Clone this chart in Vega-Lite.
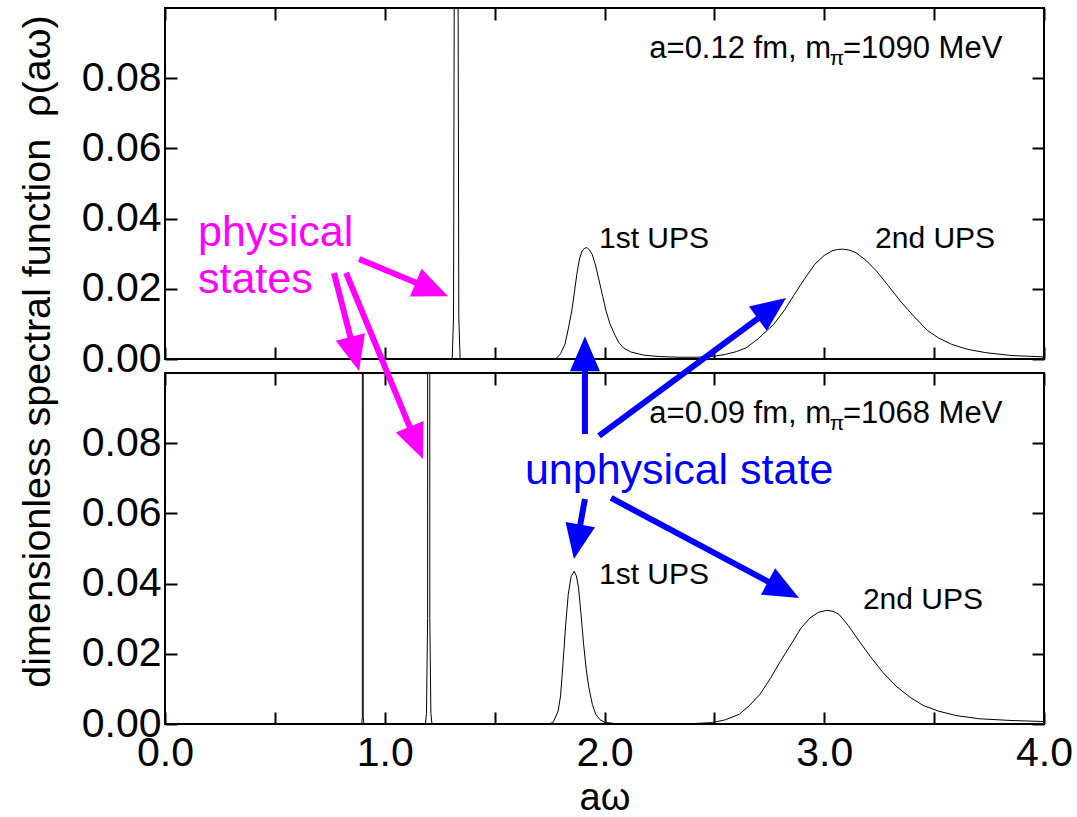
{
  "$schema": "https://vega.github.io/schema/vega-lite/v6.json",
  "background": "white",
  "padding": {"left": 16, "top": 6, "right": 5, "bottom": 5},
  "config": {
    "font": "Liberation Sans",
    "view": {"stroke": "black", "strokeWidth": 2},
    "axis": {"grid": false, "domain": false, "ticks": true, "tickOpacity": 1, "zindex": 1, "tickColor": "black", "tickWidth": 2, "tickSize": 12, "offset": -12, "labelColor": "black", "labelFont": "Liberation Sans", "titleFont": "Liberation Sans", "titleFontWeight": "normal", "titleColor": "black", "labelFlush": false, "labelOverlap": false}
  },
  "bounds": "flush",
  "spacing": 14,
  "datasets": {
    "top": [
      {"aw": 0, "rho": 0}, {"aw": 1.30, "rho": 0}, {"aw": 1.307, "rho": 0}, {"aw": 1.313, "rho": 0.012}, {"aw": 1.316, "rho": 0.1}, {"aw": 1.325, "rho": 3}, {"aw": 1.334, "rho": 0.1}, {"aw": 1.337, "rho": 0.012}, {"aw": 1.343, "rho": 0},
      {"aw": 1.75, "rho": 0}, {"aw": 1.781, "rho": 0.0002}, {"aw": 1.80, "rho": 0.0015}, {"aw": 1.82, "rho": 0.0042}, {"aw": 1.835, "rho": 0.0085}, {"aw": 1.851, "rho": 0.0137}, {"aw": 1.863, "rho": 0.019}, {"aw": 1.874, "rho": 0.0241}, {"aw": 1.886, "rho": 0.0285}, {"aw": 1.898, "rho": 0.0308}, {"aw": 1.91, "rho": 0.0316}, {"aw": 1.921, "rho": 0.0317}, {"aw": 1.932, "rho": 0.031}, {"aw": 1.944, "rho": 0.0298}, {"aw": 1.96, "rho": 0.0265}, {"aw": 1.976, "rho": 0.0222}, {"aw": 1.992, "rho": 0.0178}, {"aw": 2.007, "rho": 0.0137}, {"aw": 2.025, "rho": 0.01}, {"aw": 2.046, "rho": 0.007}, {"aw": 2.065, "rho": 0.0047}, {"aw": 2.085, "rho": 0.0032}, {"aw": 2.12, "rho": 0.002}, {"aw": 2.178, "rho": 0.0011}, {"aw": 2.25, "rho": 0.0007}, {"aw": 2.334, "rho": 0.0005}, {"aw": 2.42, "rho": 0.0005},
      {"aw": 2.489, "rho": 0.0007}, {"aw": 2.55, "rho": 0.0013}, {"aw": 2.6, "rho": 0.0021}, {"aw": 2.645, "rho": 0.0032}, {"aw": 2.7, "rho": 0.0058}, {"aw": 2.77, "rho": 0.0099}, {"aw": 2.82, "rho": 0.014}, {"aw": 2.864, "rho": 0.0184}, {"aw": 2.91, "rho": 0.0228}, {"aw": 2.957, "rho": 0.027}, {"aw": 3.0, "rho": 0.0295}, {"aw": 3.035, "rho": 0.0308}, {"aw": 3.06, "rho": 0.0312}, {"aw": 3.082, "rho": 0.0313}, {"aw": 3.11, "rho": 0.0311}, {"aw": 3.144, "rho": 0.0303}, {"aw": 3.19, "rho": 0.0281}, {"aw": 3.237, "rho": 0.0251}, {"aw": 3.29, "rho": 0.021}, {"aw": 3.346, "rho": 0.0165}, {"aw": 3.41, "rho": 0.012}, {"aw": 3.47, "rho": 0.0081}, {"aw": 3.52, "rho": 0.006}, {"aw": 3.579, "rho": 0.0042}, {"aw": 3.65, "rho": 0.0028}, {"aw": 3.735, "rho": 0.0018}, {"aw": 3.85, "rho": 0.001}, {"aw": 4.0, "rho": 0.0006}
    ],
    "bottom": [
      {"aw": 0, "rho": 0}, {"aw": 0.895, "rho": 0}, {"aw": 0.898, "rho": 0.002}, {"aw": 0.9, "rho": 5}, {"aw": 0.902, "rho": 0.002}, {"aw": 0.905, "rho": 0},
      {"aw": 1.185, "rho": 0}, {"aw": 1.19, "rho": 0.003}, {"aw": 1.195, "rho": 0.03}, {"aw": 1.2, "rho": 3}, {"aw": 1.205, "rho": 0.03}, {"aw": 1.21, "rho": 0.003}, {"aw": 1.215, "rho": 0},
      {"aw": 1.74, "rho": 0}, {"aw": 1.766, "rho": 0.0004}, {"aw": 1.789, "rho": 0.0037}, {"aw": 1.8, "rho": 0.008}, {"aw": 1.812, "rho": 0.0179}, {"aw": 1.823, "rho": 0.028}, {"aw": 1.835, "rho": 0.0369}, {"aw": 1.848, "rho": 0.042}, {"aw": 1.862, "rho": 0.0435}, {"aw": 1.872, "rho": 0.0422}, {"aw": 1.882, "rho": 0.0388}, {"aw": 1.893, "rho": 0.0313}, {"aw": 1.905, "rho": 0.0227}, {"aw": 1.917, "rho": 0.0155}, {"aw": 1.929, "rho": 0.0103}, {"aw": 1.945, "rho": 0.0055}, {"aw": 1.96, "rho": 0.0028}, {"aw": 1.98, "rho": 0.0012}, {"aw": 2.0, "rho": 0.0005}, {"aw": 2.05, "rho": 0.0001}, {"aw": 2.4, "rho": 0.0001},
      {"aw": 2.49, "rho": 0.0004}, {"aw": 2.55, "rho": 0.0012}, {"aw": 2.614, "rho": 0.0028}, {"aw": 2.66, "rho": 0.0053}, {"aw": 2.708, "rho": 0.0085}, {"aw": 2.755, "rho": 0.013}, {"aw": 2.801, "rho": 0.0179}, {"aw": 2.85, "rho": 0.0228}, {"aw": 2.895, "rho": 0.0274}, {"aw": 2.935, "rho": 0.0302}, {"aw": 2.973, "rho": 0.0318}, {"aw": 3.011, "rho": 0.0324}, {"aw": 3.04, "rho": 0.0321}, {"aw": 3.066, "rho": 0.0313}, {"aw": 3.11, "rho": 0.028}, {"aw": 3.159, "rho": 0.0236}, {"aw": 3.21, "rho": 0.0192}, {"aw": 3.268, "rho": 0.0146}, {"aw": 3.33, "rho": 0.0106}, {"aw": 3.393, "rho": 0.0075}, {"aw": 3.45, "rho": 0.0053}, {"aw": 3.518, "rho": 0.0037}, {"aw": 3.6, "rho": 0.0024}, {"aw": 3.704, "rho": 0.0015}, {"aw": 3.85, "rho": 0.001}, {"aw": 4.0, "rho": 0.0007}
    ],
    "labels": [
      {"panel": "top", "kind": "ann1", "aw": 3.031, "rho": 0.0858, "text": "a=0.12 fm, m"},
      {"panel": "top", "kind": "sub", "aw": 3.058, "rho": 0.0838, "text": "π"},
      {"panel": "top", "kind": "ann2", "aw": 3.085, "rho": 0.0858, "text": "=1090 MeV"},
      {"panel": "top", "kind": "ups", "aw": 1.975, "rho": 0.0316, "text": "1st UPS"},
      {"panel": "top", "kind": "ups", "aw": 3.231, "rho": 0.0316, "text": "2nd UPS"},
      {"panel": "top", "kind": "mag", "aw": 0.15, "rho": 0.0322, "text": "physical"},
      {"panel": "top", "kind": "mag", "aw": 0.15, "rho": 0.0188, "text": "states"},
      {"panel": "bottom", "kind": "ann1", "aw": 3.031, "rho": 0.0858, "text": "a=0.09 fm, m"},
      {"panel": "bottom", "kind": "sub", "aw": 3.058, "rho": 0.0838, "text": "π"},
      {"panel": "bottom", "kind": "ann2", "aw": 3.085, "rho": 0.0858, "text": "=1068 MeV"},
      {"panel": "bottom", "kind": "ups", "aw": 1.975, "rho": 0.0399, "text": "1st UPS"},
      {"panel": "bottom", "kind": "ups", "aw": 3.176, "rho": 0.0328, "text": "2nd UPS"},
      {"panel": "bottom", "kind": "blue", "aw": 1.638, "rho": 0.0684, "text": "unphysical state"}
    ],
    "arrows": [
      {"grp": "physical", "x1": 0.883, "y1": 0.1325, "x2": 1.288, "y2": 0.1219},
      {"grp": "physical", "x1": 0.769, "y1": 0.1285, "x2": 0.883, "y2": 0.1006},
      {"grp": "physical", "x1": 0.824, "y1": 0.1285, "x2": 1.174, "y2": 0.0755},
      {"grp": "unphysical", "x1": 1.911, "y1": 0.0826, "x2": 1.911, "y2": 0.1105},
      {"grp": "unphysical", "x1": 1.975, "y1": 0.0821, "x2": 2.826, "y2": 0.1214},
      {"grp": "unphysical", "x1": 1.911, "y1": 0.0641, "x2": 1.861, "y2": 0.047},
      {"grp": "unphysical", "x1": 2.03, "y1": 0.0644, "x2": 2.885, "y2": 0.0359}
    ]
  },
  "vconcat": [
    {
      "width": 879,
      "height": 351,
      "resolve": {"axis": {"x": "independent", "y": "independent"}},
      "layer": [
        {
          "data": {"name": "top"},
          "mark": {"type": "line", "color": "black", "strokeWidth": 1, "clip": true},
          "encoding": {
            "x": {"field": "aw", "type": "quantitative", "scale": {"domain": [0, 4], "nice": false},
                  "axis": {"orient": "bottom", "values": [0, 0.5, 1, 1.5, 2, 2.5, 3, 3.5, 4], "labels": false, "title": null}},
            "y": {"field": "rho", "type": "quantitative", "scale": {"domain": [0, 0.1], "nice": false, "zero": false},
                  "axis": {"orient": "left", "values": [0, 0.02, 0.04, 0.06, 0.08], "format": ".2f", "labelFontSize": 41, "labelPadding": 4,
                           "title": "dimensionless spectral function \u00a0ρ(aω)", "titleFontSize": 39.5, "titlePadding": 24, "titleY": 343}}
          }
        },
        {
          "data": {"name": "top"},
          "mark": {"type": "line", "opacity": 0, "clip": true},
          "encoding": {
            "x": {"field": "aw", "type": "quantitative", "scale": {"domain": [0, 4], "nice": false},
                  "axis": {"orient": "top", "values": [0, 0.5, 1, 1.5, 2, 2.5, 3, 3.5, 4], "labels": false, "title": null}},
            "y": {"field": "rho", "type": "quantitative", "scale": {"domain": [0, 0.1], "nice": false, "zero": false},
                  "axis": {"orient": "right", "values": [0, 0.02, 0.04, 0.06, 0.08], "labels": false, "title": null}}
          }
        },
        {
          "data": {"name": "labels"},
          "transform": [{"filter": "datum.panel == 'top' && datum.kind == 'ann1'"}],
          "mark": {"type": "text", "align": "right", "baseline": "alphabetic", "fontSize": 31, "color": "black"},
          "encoding": {
            "x": {"field": "aw", "type": "quantitative", "scale": {"domain": [0, 4], "nice": false}, "axis": null},
            "y": {"field": "rho", "type": "quantitative", "scale": {"domain": [0, 0.1], "nice": false, "zero": false}, "axis": null},
            "text": {"field": "text"}
          }
        },
        {
          "data": {"name": "labels"},
          "transform": [{"filter": "datum.panel == 'top' && datum.kind == 'sub'"}],
          "mark": {"type": "text", "align": "center", "baseline": "alphabetic", "fontSize": 21, "color": "black"},
          "encoding": {
            "x": {"field": "aw", "type": "quantitative", "scale": {"domain": [0, 4], "nice": false}, "axis": null},
            "y": {"field": "rho", "type": "quantitative", "scale": {"domain": [0, 0.1], "nice": false, "zero": false}, "axis": null},
            "text": {"field": "text"}
          }
        },
        {
          "data": {"name": "labels"},
          "transform": [{"filter": "datum.panel == 'top' && datum.kind == 'ann2'"}],
          "mark": {"type": "text", "align": "left", "baseline": "alphabetic", "fontSize": 31, "color": "black"},
          "encoding": {
            "x": {"field": "aw", "type": "quantitative", "scale": {"domain": [0, 4], "nice": false}, "axis": null},
            "y": {"field": "rho", "type": "quantitative", "scale": {"domain": [0, 0.1], "nice": false, "zero": false}, "axis": null},
            "text": {"field": "text"}
          }
        },
        {
          "data": {"name": "labels"},
          "transform": [{"filter": "datum.panel == 'top' && datum.kind == 'ups'"}],
          "mark": {"type": "text", "align": "left", "baseline": "alphabetic", "fontSize": 30, "color": "black"},
          "encoding": {
            "x": {"field": "aw", "type": "quantitative", "scale": {"domain": [0, 4], "nice": false}, "axis": null},
            "y": {"field": "rho", "type": "quantitative", "scale": {"domain": [0, 0.1], "nice": false, "zero": false}, "axis": null},
            "text": {"field": "text"}
          }
        },
        {
          "data": {"name": "labels"},
          "transform": [{"filter": "datum.panel == 'top' && datum.kind == 'mag'"}],
          "mark": {"type": "text", "align": "left", "baseline": "alphabetic", "fontSize": 43, "color": "#ff00ff"},
          "encoding": {
            "x": {"field": "aw", "type": "quantitative", "scale": {"domain": [0, 4], "nice": false}, "axis": null},
            "y": {"field": "rho", "type": "quantitative", "scale": {"domain": [0, 0.1], "nice": false, "zero": false}, "axis": null},
            "text": {"field": "text"}
          }
        }
      ]
    },
    {
      "width": 879,
      "height": 351,
      "resolve": {"axis": {"x": "independent", "y": "independent"}},
      "layer": [
        {
          "data": {"name": "bottom"},
          "mark": {"type": "line", "color": "black", "strokeWidth": 1, "clip": true},
          "encoding": {
            "x": {"field": "aw", "type": "quantitative", "scale": {"domain": [0, 4], "nice": false},
                  "axis": {"orient": "bottom", "values": [0, 0.5, 1, 1.5, 2, 2.5, 3, 3.5, 4], "labelExpr": "datum.value % 1 == 0 ? format(datum.value, '.1f') : ''", "labelFontSize": 41, "labelPadding": 9,
                           "title": "aω", "titleFontSize": 38, "titlePadding": 6}},
            "y": {"field": "rho", "type": "quantitative", "scale": {"domain": [0, 0.1], "nice": false, "zero": false},
                  "axis": {"orient": "left", "values": [0, 0.02, 0.04, 0.06, 0.08], "format": ".2f", "labelFontSize": 41, "labelPadding": 4, "title": null}}
          }
        },
        {
          "data": {"name": "bottom"},
          "mark": {"type": "line", "opacity": 0, "clip": true},
          "encoding": {
            "x": {"field": "aw", "type": "quantitative", "scale": {"domain": [0, 4], "nice": false},
                  "axis": {"orient": "top", "values": [0, 0.5, 1, 1.5, 2, 2.5, 3, 3.5, 4], "labels": false, "title": null}},
            "y": {"field": "rho", "type": "quantitative", "scale": {"domain": [0, 0.1], "nice": false, "zero": false},
                  "axis": {"orient": "right", "values": [0, 0.02, 0.04, 0.06, 0.08], "labels": false, "title": null}}
          }
        },
        {
          "data": {"name": "labels"},
          "transform": [{"filter": "datum.panel == 'bottom' && datum.kind == 'ann1'"}],
          "mark": {"type": "text", "align": "right", "baseline": "alphabetic", "fontSize": 31, "color": "black"},
          "encoding": {
            "x": {"field": "aw", "type": "quantitative", "scale": {"domain": [0, 4], "nice": false}, "axis": null},
            "y": {"field": "rho", "type": "quantitative", "scale": {"domain": [0, 0.1], "nice": false, "zero": false}, "axis": null},
            "text": {"field": "text"}
          }
        },
        {
          "data": {"name": "labels"},
          "transform": [{"filter": "datum.panel == 'bottom' && datum.kind == 'sub'"}],
          "mark": {"type": "text", "align": "center", "baseline": "alphabetic", "fontSize": 21, "color": "black"},
          "encoding": {
            "x": {"field": "aw", "type": "quantitative", "scale": {"domain": [0, 4], "nice": false}, "axis": null},
            "y": {"field": "rho", "type": "quantitative", "scale": {"domain": [0, 0.1], "nice": false, "zero": false}, "axis": null},
            "text": {"field": "text"}
          }
        },
        {
          "data": {"name": "labels"},
          "transform": [{"filter": "datum.panel == 'bottom' && datum.kind == 'ann2'"}],
          "mark": {"type": "text", "align": "left", "baseline": "alphabetic", "fontSize": 31, "color": "black"},
          "encoding": {
            "x": {"field": "aw", "type": "quantitative", "scale": {"domain": [0, 4], "nice": false}, "axis": null},
            "y": {"field": "rho", "type": "quantitative", "scale": {"domain": [0, 0.1], "nice": false, "zero": false}, "axis": null},
            "text": {"field": "text"}
          }
        },
        {
          "data": {"name": "labels"},
          "transform": [{"filter": "datum.panel == 'bottom' && datum.kind == 'ups'"}],
          "mark": {"type": "text", "align": "left", "baseline": "alphabetic", "fontSize": 30, "color": "black"},
          "encoding": {
            "x": {"field": "aw", "type": "quantitative", "scale": {"domain": [0, 4], "nice": false}, "axis": null},
            "y": {"field": "rho", "type": "quantitative", "scale": {"domain": [0, 0.1], "nice": false, "zero": false}, "axis": null},
            "text": {"field": "text"}
          }
        },
        {
          "data": {"name": "labels"},
          "transform": [{"filter": "datum.panel == 'bottom' && datum.kind == 'blue'"}],
          "mark": {"type": "text", "align": "left", "baseline": "alphabetic", "fontSize": 43, "color": "#0000ff"},
          "encoding": {
            "x": {"field": "aw", "type": "quantitative", "scale": {"domain": [0, 4], "nice": false}, "axis": null},
            "y": {"field": "rho", "type": "quantitative", "scale": {"domain": [0, 0.1], "nice": false, "zero": false}, "axis": null},
            "text": {"field": "text"}
          }
        },
        {
          "data": {"name": "arrows"},
          "transform": [
            {"calculate": "(datum.x2 - datum.x1) * 219.75", "as": "dxp"},
            {"calculate": "(datum.y1 - datum.y2) * 3510", "as": "dyp"},
            {"calculate": "sqrt(datum.dxp * datum.dxp + datum.dyp * datum.dyp)", "as": "len"},
            {"calculate": "datum.x2 - (datum.x2 - datum.x1) * 28 / datum.len", "as": "bx"},
            {"calculate": "datum.y2 - (datum.y2 - datum.y1) * 28 / datum.len", "as": "by"},
            {"calculate": "atan2(datum.dxp, -datum.dyp) * 180 / PI", "as": "ang"}
          ],
          "layer": [
            {
              "mark": {"type": "rule", "strokeWidth": 6},
              "encoding": {
                "x": {"field": "x1", "type": "quantitative", "scale": {"domain": [0, 4], "nice": false}, "axis": null},
                "y": {"field": "y1", "type": "quantitative", "scale": {"domain": [0, 0.1], "nice": false, "zero": false}, "axis": null},
                "x2": {"field": "bx"},
                "y2": {"field": "by"},
                "color": {"field": "grp", "type": "nominal", "scale": {"domain": ["physical", "unphysical"], "range": ["#ff00ff", "#0000ff"]}, "legend": null}
              }
            },
            {
              "mark": {"type": "point", "shape": "M0,0L0.857,2L-0.857,2Z", "filled": true, "size": 1225, "opacity": 1, "strokeWidth": 0},
              "encoding": {
                "x": {"field": "x2", "type": "quantitative", "scale": {"domain": [0, 4], "nice": false}, "axis": null},
                "y": {"field": "y2", "type": "quantitative", "scale": {"domain": [0, 0.1], "nice": false, "zero": false}, "axis": null},
                "angle": {"field": "ang", "type": "quantitative", "scale": null},
                "color": {"field": "grp", "type": "nominal", "scale": {"domain": ["physical", "unphysical"], "range": ["#ff00ff", "#0000ff"]}, "legend": null}
              }
            }
          ]
        }
      ]
    }
  ]
}
